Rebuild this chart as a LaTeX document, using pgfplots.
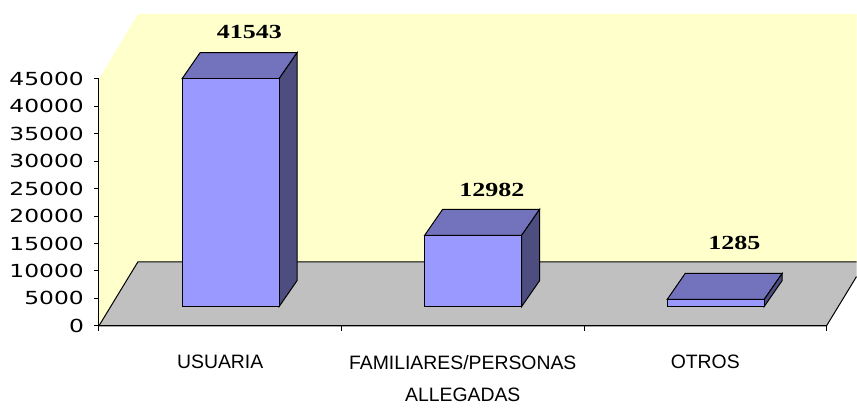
\documentclass[border=0pt]{standalone}
\usepackage{pgfplots}
\pgfplotsset{compat=1.18}
\usepackage{fontspec}
\setmainfont{Liberation Sans}
\newfontfamily\tickfont{DejaVu Sans}
\newfontfamily\labfont{Liberation Serif}
\definecolor{frontc}{RGB}{153,153,255}
\definecolor{topc}{RGB}{115,115,189}
\definecolor{sidec}{RGB}{77,77,128}
\definecolor{wallc}{RGB}{255,255,204}
\definecolor{floorc}{RGB}{192,192,192}
\pgfkeys{/pgf/number format/1000 sep={}}
% one 3-D column: #1 category position, #2 value, #3 label height
\newcommand{\threedbar}[3]{%
 \edef\xa{\fpeval{#1-0.157}}%
 \edef\xb{\fpeval{#1+0.243}}%
 \edef\xc{\fpeval{#1+0.3172}}%
 \edef\xd{\fpeval{#1-0.0828}}%
 \edef\xl{\fpeval{#1+0.12}}%
 \edef\ya{3520}%
 \edef\yb{\fpeval{3520+#2}}%
 \edef\yc{8257}%
 \edef\yd{\fpeval{8257+#2}}%
 \edef\tmp{%
  \noexpand\addplot[fill=topc,draw=black,line width=0.5pt,mark=none] coordinates {(\xa,\yb) (\xb,\yb) (\xc,\yd) (\xd,\yd)} --cycle;
  \noexpand\addplot[fill=sidec,draw=black,line width=0.5pt,mark=none] coordinates {(\xb,\ya) (\xc,\yc) (\xc,\yd) (\xb,\yb)} --cycle;
  \noexpand\addplot[fill=frontc,draw=black,line width=0.5pt,mark=none] coordinates {(\xa,\ya) (\xb,\ya) (\xb,\yb) (\xa,\yb)} --cycle;
  \noexpand\addplot[draw=none,mark=none,nodes near coords={\noexpand\scalebox{1.3}[1]{\noexpand\pgfplotspointmeta}},point meta=explicit symbolic,
     every node near coord/.style={anchor=center,font=\noexpand\labfont\noexpand\bfseries\noexpand\fontsize{10}{12}\noexpand\selectfont}] coordinates {(\xl,#3) [#2]};
 }\tmp}
\begin{document}
\begin{tikzpicture}
\begin{axis}[
  scale only axis, width=364pt, height=123.5pt,
  xmin=-0.5, xmax=2.5, ymin=0, ymax=45000,
  clip=false, axis on top,
  axis x line*=bottom, axis y line*=left,
  axis line style={black,line width=0.5pt},
  scaled y ticks=false,
  /pgf/number format/assume math mode=true,
  ytick={0,5000,10000,15000,20000,25000,30000,35000,40000,45000},
  yticklabel={\scalebox{1.3}[1]{\pgfmathprintnumber{\tick}}},
  yticklabel style={font=\tickfont\fontsize{9}{11}\selectfont, xshift=-1.5pt},
  xtick={0,1,2},
  xticklabels={USUARIA,{FAMILIARES/PERSONAS\\[4.5pt]ALLEGADAS},OTROS},
  xticklabel style={font=\fontsize{9.7}{11.6}\selectfont, align=center, yshift=-8.7pt},
  major x tick style={draw=none},
  minor xtick={-0.5,0.5,1.5,2.5},
  tick align=outside,
  major tick length=2.5pt, minor tick length=2.5pt,
  tick style={black,line width=0.5pt},
]
% picture extent
\addplot[draw=none,mark=none] coordinates {(-0.908,-13664) (2.6236,59393)};
% walls
\addplot[fill=wallc,draw=none,mark=none] coordinates {(-0.5,0) (-0.5,45000) (-0.3393,56842) (2.6236,56842) (2.6236,11660) (-0.3393,11660)} --cycle;
\addplot[fill=floorc,draw=none,mark=none] coordinates {(-0.5,0) (2.5,0) (2.6236,8968) (2.6236,11660) (-0.3393,11660)} --cycle;
\addplot[black,line width=0.5pt,mark=none] coordinates {(2.6236,11660) (-0.3393,11660) (-0.5,0) (2.5,0) (2.6236,8968)};
% columns
\threedbar{0}{41543}{53560}
\threedbar{1}{12982}{24777}
\threedbar{2}{1285}{15121}
\end{axis}
\end{tikzpicture}
\end{document}
